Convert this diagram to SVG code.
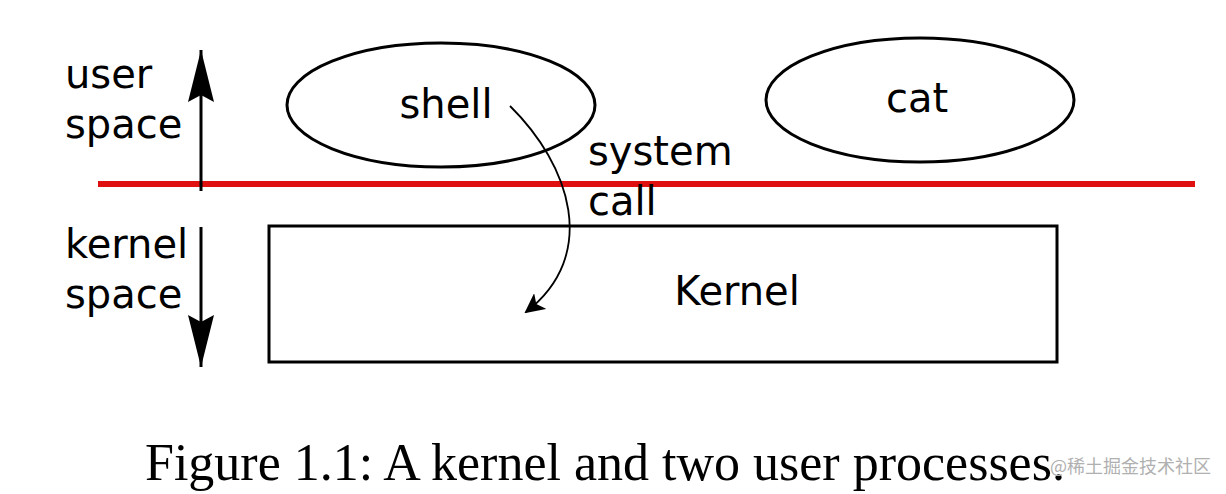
<svg xmlns="http://www.w3.org/2000/svg" width="1226" height="494" viewBox="0 0 1226 494">
<style>
.t{font-family:"DejaVu Sans",sans-serif;font-size:40px;fill:#000}
.shape{fill:none;stroke:#000;stroke-width:3}
.cap{font-family:"Liberation Serif",serif;font-size:52px;fill:#000}
</style>
<defs>
<marker id="big" viewBox="0 0 52 30" refX="52" refY="15" markerWidth="52" markerHeight="30" markerUnits="userSpaceOnUse" orient="auto">
<path d="M52,15 L0,2 L7,15 L0,28 Z" fill="#000"/>
</marker>
<marker id="small" viewBox="0 0 20 20" refX="18" refY="10" markerWidth="20" markerHeight="20" markerUnits="userSpaceOnUse" orient="auto">
<path d="M20,10 L0,0 L5,10 L0,20 Z" fill="#000"/>
</marker>
</defs>
<rect width="1226" height="494" fill="#fff"/>
<g id="boundary"><line x1="98" y1="184" x2="1195" y2="184" stroke="#e01010" stroke-width="6"/></g>
<g id="user-space-label"><text class="t" x="65" y="88">user</text><text class="t" x="65" y="138">space</text></g>
<g id="kernel-space-label"><text class="t" x="65" y="258">kernel</text><text class="t" x="65" y="308">space</text></g>
<g id="shell"><ellipse class="shape" cx="441" cy="105" rx="154" ry="62"/><text class="t" x="446" y="118" text-anchor="middle">shell</text></g>
<g id="cat"><ellipse class="shape" cx="920" cy="100" rx="154" ry="62"/><text class="t" x="917" y="112" text-anchor="middle">cat</text></g>
<g id="kernel"><rect class="shape" x="269" y="226" width="788" height="136"/><text class="t" x="737" y="305" text-anchor="middle">Kernel</text></g>
<g id="syscall-label"><text class="t" x="588" y="165">system</text><text class="t" x="588" y="215">call</text></g>
<g id="connectors">
<line x1="201" y1="191" x2="201" y2="50" stroke="#000" stroke-width="3" marker-end="url(#big)"/>
<line x1="201" y1="227" x2="201" y2="367" stroke="#000" stroke-width="3" marker-end="url(#big)"/>
<path d="M510,106 C570,165 600,255 526,312" fill="none" stroke="#000" stroke-width="1.8" marker-end="url(#small)"/>
</g>
<text class="cap" x="145" y="480">Figure 1.1: A kernel and two user processes.</text>
<text x="1050" y="473" font-family="Noto Sans CJK SC,sans-serif" font-size="18" fill="#b0b0b0">@稀土掘金技术社区</text>
</svg>
